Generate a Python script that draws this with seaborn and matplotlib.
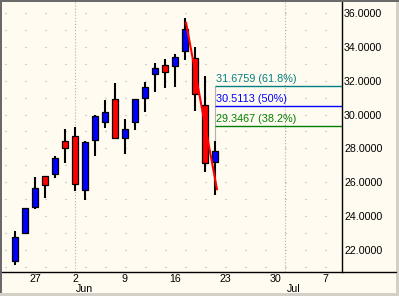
import matplotlib
matplotlib.use('Agg')
import matplotlib.pyplot as plt
import matplotlib.transforms as mtransforms
from matplotlib.lines import Line2D
from matplotlib.patches import Rectangle
import numpy as np
import pandas as pd
import seaborn as sns

# ---- data ----
dates = ['2008-05-22', '2008-05-23', '2008-05-27', '2008-05-28', '2008-05-29',
         '2008-05-30', '2008-06-02', '2008-06-03', '2008-06-04', '2008-06-05',
         '2008-06-06', '2008-06-09', '2008-06-10', '2008-06-11', '2008-06-12',
         '2008-06-13', '2008-06-16', '2008-06-17', '2008-06-18', '2008-06-19',
         '2008-06-20']
opens = [21.33, 22.99, 24.56, 26.37, 26.47, 28.44, 28.73, 25.53, 28.52, 29.58,
         30.90, 28.60, 29.54, 30.96, 32.38, 32.91, 32.85, 33.74, 33.32, 30.55, 27.18]
highs = [23.12, 24.50, 26.29, 26.40, 27.55, 29.15, 29.27, 28.44, 29.95, 30.86,
         31.88, 29.72, 30.92, 31.92, 33.03, 33.26, 33.56, 35.69, 34.01, 32.28, 28.44]
lows = [21.13, 22.95, 24.44, 25.05, 26.23, 27.12, 25.50, 24.95, 27.57, 29.21,
        28.55, 27.65, 29.09, 30.17, 31.35, 31.59, 31.61, 33.22, 30.23, 26.59, 25.25]
closes = [22.75, 24.46, 25.64, 25.84, 27.42, 28.04, 25.88, 28.38, 29.91, 30.13,
          28.60, 29.13, 30.90, 31.61, 32.73, 32.50, 33.38, 35.04, 31.20, 27.12, 27.82]

tick_dates = ['2008-05-27', '2008-06-02', '2008-06-09', '2008-06-16',
              '2008-06-23', '2008-06-30', '2008-07-07']
tick_labels = ['27', '2', '9', '16', '23', '30', '7']
month_dates = ['2008-06-02', '2008-07-01']
month_labels = ['Jun', 'Jul']

fib_high = 35.4461
fib_low = 25.5766
fib_anchor_dates = ['2008-06-17', '2008-06-20']
fib_values = [31.6759, 30.5113, 29.3467]
fib_labels = ['61.8%', '50%', '38.2%']
fib_colors = ['#008080', '#0000ff', '#008000']
y_ticks = [22, 24, 26, 28, 30, 32, 34, 36]

# ---- setup ----
sns.set_style('white')
plt.rcParams['font.family'] = ['Liberation Sans', 'DejaVu Sans']
plt.rcParams['lines.scale_dashes'] = False

bg = '#fffbf0'
W, H = 399, 296
fig = plt.figure(figsize=(W / 100, H / 100), dpi=100, facecolor=bg)
ax = fig.add_axes([2 / W, 24 / H, 340 / W, 270 / H], facecolor=bg)

calendar = [pd.Timestamp(d) for d in dates] + list(pd.bdate_range('2008-06-23', '2008-07-20'))
pos = {d: i for i, d in enumerate(calendar)}
def idx(d):
    return pos[pd.Timestamp(d)]

df = pd.DataFrame({'date': pd.to_datetime(dates), 'open': opens, 'high': highs,
                   'low': lows, 'close': closes})
df['x'] = [idx(d) for d in dates]
df['up'] = df['close'] >= df['open']

ax.set_xlim(-1.3, 32.7)
ax.set_ylim(20.70, 36.65)

# grid: dotted horizontal rows
for v in range(21, 37):
    ax.axhline(v, color='#a0a0a0', lw=0.9, linestyle=(12.24, (0.72, 13.68)), zorder=0)
for d in month_dates:
    ax.axvline(idx(d), color='#b0b0b0', lw=0.8, linestyle=(0, (0.8, 1.4)), zorder=0)

# wicks and bodies
ax.vlines(df['x'], df['low'], df['high'], color='black', lw=1.5, zorder=2)
body_bottom = np.minimum(df['open'], df['close'])
body_height = np.abs(df['close'] - df['open'])
colors = ['#0000ff' if u else '#ff0000' for u in df['up']]
ax.bar(df['x'], body_height, bottom=body_bottom, width=0.68, color=colors,
       edgecolor='black', linewidth=0.9, zorder=3)

# fib anchor line
ax_x = [idx(fib_anchor_dates[0]) + 0.1, idx(fib_anchor_dates[1]) + 0.2]
sns.lineplot(x=ax_x, y=[fib_high, fib_low], color='#ff0000', lw=1.5, ax=ax, zorder=5)

# fib levels
x0 = idx(fib_anchor_dates[1])
ax.vlines(x0, highs[-1], fib_values[0], color='#b0b0b0', lw=0.8, zorder=1)
for val, lab, col in zip(fib_values, fib_labels, fib_colors):
    ax.hlines(val, x0, 32.7, color=col, lw=1.0, zorder=4)
    ax.annotate(f'{val:.4f} ({lab})', (x0, val), xytext=(0.6, 1.3),
                textcoords='offset points', ha='left', va='bottom',
                color=col, fontsize=7.8, zorder=6)

# axes styling
for s in ['left', 'top', 'bottom']:
    ax.spines[s].set_visible(False)
ax.spines['right'].set_color('black')
ax.spines['right'].set_linewidth(1.0)
ax.yaxis.tick_right()
ax.set_yticks(y_ticks)
ax.set_yticklabels([f'{v:.4f}' for v in y_ticks])
ax.set_xticks([idx(d) for d in tick_dates])
ax.set_xticklabels(tick_labels)
ax.tick_params(axis='y', length=0, pad=1.5, labelsize=7.7, colors='black')
ax.tick_params(axis='x', length=0, pad=1.2, labelsize=7.7, colors='black')
ax.set_xlabel('')
ax.set_ylabel('')
if ax.get_legend():
    ax.get_legend().remove()

# month labels
trans = mtransforms.blended_transform_factory(ax.transData, fig.transFigure)
for d, lab in zip(month_dates, month_labels):
    ax.text(idx(d) + 0.9, (H - 289) / H, lab, transform=trans, ha='center',
            va='center', fontsize=7.7, color='black', clip_on=False)

# bottom axis line spanning full width
fig.add_artist(Line2D([2 / W, 396 / W], [24 / H, 24 / H], color='black', lw=1.0,
                      transform=fig.transFigure))

# window frame
fig.add_artist(Rectangle((0, 294 / H), 1, 2 / H, transform=fig.transFigure,
                         color='#6a6a6a', lw=0))
fig.add_artist(Rectangle((0, 0), 2 / W, 1, transform=fig.transFigure,
                         color='#6a6a6a', lw=0))
fig.add_artist(Rectangle((0, 0), 1, 3 / H, transform=fig.transFigure,
                         color='#d4d0c8', lw=0))
fig.add_artist(Rectangle((396 / W, 0), 3 / W, 294 / H, transform=fig.transFigure,
                         color='#d4d0c8', lw=0))

fig.savefig('out.png', dpi=100, facecolor=bg)
